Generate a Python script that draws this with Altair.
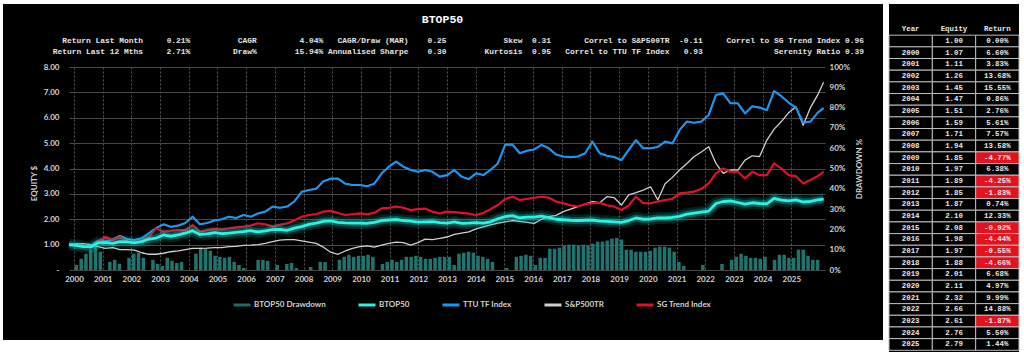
import altair as alt
import pandas as pd

# ---------------- data ----------------
series_names = ["TTU TF Index", "S&P500TR", "SG Trend Index", "BTOP50"]
legend_names = ["BTOP50 Drawdown", "BTOP50", "TTU TF Index", "S&P500TR", "SG Trend Index"]
legend_colors = ["#1f6b66", "#2af2e4", "#1a98ef", "#cfcfcf", "#e0102a"]

# quarterly sampling times (decimal years)
q_times = [round(2000 + i / 4, 2) for i in range(104)] + [2025.95]

btop50 = [
    1.00, 0.97, 0.92, 0.91,
    1.07, 1.08, 1.05, 1.12,
    1.11, 1.07, 1.12, 1.22,
    1.26, 1.38, 1.33, 1.38,
    1.45, 1.55, 1.40, 1.42,
    1.47, 1.43, 1.45, 1.48,
    1.51, 1.55, 1.50, 1.54,
    1.59, 1.60, 1.56, 1.65,
    1.71, 1.80, 1.85, 1.92,
    1.94, 1.88, 1.86, 1.85,
    1.85, 1.84, 1.88, 1.95,
    1.97, 1.99, 1.95, 1.93,
    1.89, 1.90, 1.91, 1.87,
    1.85, 1.90, 1.84, 1.85,
    1.87, 1.85, 1.90, 2.02,
    2.10, 2.14, 2.05, 2.08,
    2.08, 2.12, 2.06, 2.00,
    1.98, 1.96, 1.95, 1.96,
    1.97, 1.93, 1.92, 1.90,
    1.88, 1.95, 2.05, 2.00,
    2.01, 2.05, 2.05, 2.07,
    2.11, 2.20, 2.24, 2.28,
    2.32, 2.62, 2.70, 2.72,
    2.66, 2.60, 2.65, 2.62,
    2.61, 2.82, 2.75, 2.72,
    2.76, 2.68, 2.70, 2.76,
    2.79,
]

ttu_tf = [
    1.00, 0.97, 0.93, 0.95,
    1.15, 1.12, 1.20, 1.35,
    1.22, 1.18, 1.25, 1.45,
    1.65, 1.80, 1.70, 1.75,
    1.85, 2.10, 1.80, 1.85,
    1.95, 2.00, 2.10, 2.05,
    2.17, 2.10, 2.23, 2.30,
    2.50, 2.45, 2.50, 2.70,
    3.08, 3.15, 3.20, 3.50,
    3.60, 3.60, 3.40, 3.35,
    3.35, 3.30, 3.40, 3.80,
    4.07, 4.27, 4.07, 3.94,
    3.87, 3.94, 3.87, 3.68,
    3.74, 3.94, 3.68, 3.58,
    3.81, 3.74, 3.95, 4.20,
    4.93, 4.95, 4.60, 4.70,
    4.75, 4.93, 4.80, 4.55,
    4.47, 4.45, 4.47, 4.60,
    5.06, 4.60, 4.50, 4.45,
    4.33, 4.73, 5.12, 4.80,
    4.80, 4.85, 5.06, 4.99,
    5.52, 5.85, 5.80, 5.85,
    6.11, 6.90, 6.96, 6.57,
    6.57, 6.17, 6.45, 6.40,
    6.30, 7.05, 6.85, 6.60,
    6.40, 5.80, 5.85, 6.20,
    6.38,
]

sp500tr = [
    1.00, 1.03, 1.04, 1.00,
    0.92, 0.85, 0.88, 0.80,
    0.80, 0.78, 0.68, 0.62,
    0.62, 0.66, 0.72, 0.75,
    0.80, 0.85, 0.85, 0.86,
    0.88, 0.88, 0.92, 0.93,
    0.97, 0.98, 1.00, 1.05,
    1.12, 1.18, 1.20, 1.20,
    1.15, 1.10, 1.05, 0.90,
    0.70, 0.62, 0.75, 0.85,
    0.92, 0.95, 0.90, 0.98,
    1.05, 1.10, 1.08, 0.98,
    1.08, 1.22, 1.20, 1.25,
    1.30, 1.40, 1.45, 1.50,
    1.62, 1.70, 1.78, 1.85,
    1.90, 1.95, 1.92, 1.88,
    1.84, 2.00, 2.10, 2.15,
    2.30, 2.40, 2.50, 2.60,
    2.69, 2.65, 2.89, 2.85,
    2.56, 2.96, 3.05, 3.15,
    3.28, 2.76, 3.40, 3.65,
    3.94, 4.20, 4.47, 4.65,
    4.86, 4.20, 3.81, 3.94,
    3.94, 4.33, 4.50, 4.47,
    5.12, 5.55, 5.85, 6.20,
    6.43, 5.70, 6.40, 6.90,
    7.40,
]

sg_trend = [
    1.00, 0.97, 0.92, 0.90,
    1.12, 1.31, 1.18, 1.31,
    1.12, 1.10, 1.15, 1.31,
    1.64, 1.51, 1.55, 1.57,
    1.57, 1.77, 1.51, 1.58,
    1.62, 1.60, 1.64, 1.68,
    1.71, 1.75, 1.84, 1.80,
    1.71, 1.78, 1.84, 1.95,
    2.10, 2.17, 2.20, 2.30,
    2.33, 2.25, 2.17, 2.20,
    2.23, 2.20, 2.25, 2.43,
    2.45, 2.50, 2.45, 2.36,
    2.40, 2.42, 2.30, 2.23,
    2.30, 2.28, 2.25, 2.22,
    2.17, 2.25, 2.40, 2.56,
    2.80, 2.89, 2.76, 2.80,
    2.85, 2.89, 2.85, 2.70,
    2.63, 2.55, 2.50, 2.60,
    2.63, 2.65, 2.55, 2.50,
    2.36, 2.55, 2.89, 2.63,
    2.63, 2.70, 2.76, 2.80,
    3.02, 3.05, 3.09, 3.20,
    3.41, 3.81, 4.00, 3.87,
    3.87, 3.61, 3.87, 3.74,
    3.74, 4.20, 4.00, 3.74,
    3.70, 3.41, 3.55, 3.70,
    3.87,
]

# bi-monthly drawdown of BTOP50 (%)
dd_times = [round(2000 + (2 * i + 1) / 12, 3) for i in range(156)]
drawdown = [
    2.5, 5.5, 8, 10, 11.5, 9,
    0, 4, 5, 3, 0, 6,
    8, 8.5, 6, 0, 5, 3,
    2, 6, 4.5, 3.5, 4, 0,
    0, 8, 11, 10.5, 9.5, 7,
    6.5, 6, 6.5, 4, 2.5, 1,
    0, 0, 5, 5, 4.5, 0,
    2.5, 0, 3, 3.5, 1, 0,
    0, 1.5, 0, 4, 4, 0,
    0, 5, 6.5, 7.5, 6.5, 7,
    7, 7.5, 6.5, 0, 3, 4,
    5, 4, 5, 6.5, 6.5, 7,
    6.5, 5.5, 5.5, 6, 6.5, 6.5,
    6.5, 2.5, 8, 8.5, 9, 8.5,
    7, 6.5, 5.5, 4, 0, 0,
    1, 0, 6.5, 7, 7.5, 7,
    2.5, 6, 6, 10.5, 10.5, 11,
    12, 12.5, 12.5, 12, 12.5, 12,
    13, 14, 14, 14.5, 15.5, 15.8,
    15, 10, 10, 9, 9, 9,
    9.5, 11, 11.5, 11.5, 11, 9,
    4, 2, 0, 0, 0, 2.5,
    0, 0, 0, 3, 0, 5,
    6.5, 8, 7, 6, 6, 5.5,
    6.5, 0, 5, 7.5, 7.5, 6,
    6, 10, 10, 7, 5, 5,
]

# statistics header
stat_labels_1 = ["Return Last Month", "CAGR", "CAGR/Draw (MAR)", "Skew",
                 "Correl to S&P500TR", "Correl to SG Trend Index"]
stat_values_1 = ["0.21%", "4.04%", "0.25", "0.31", "-0.11", "0.96"]
stat_labels_2 = ["Return Last 12 Mths", "Draw%", "Annualised Sharpe", "Kurtosis",
                 "Correl to TTU TF Index", "Serenity Ratio"]
stat_values_2 = ["2.71%", "15.94%", "0.30", "0.95", "0.93", "0.39"]

# yearly table
table_header = ["Year", "Equity", "Return"]
table_years = [""] + [str(y) for y in range(2000, 2026)]
table_equity = [1.00, 1.07, 1.11, 1.26, 1.45, 1.47, 1.51, 1.59, 1.71, 1.94, 1.85,
                1.97, 1.89, 1.85, 1.87, 2.10, 2.08, 1.98, 1.97, 1.88, 2.01, 2.11,
                2.32, 2.66, 2.61, 2.76, 2.79]
table_return = [0.00, 6.60, 3.83, 13.68, 15.55, 0.86, 2.76, 5.61, 7.57, 13.58, -4.77,
                6.38, -4.25, -1.83, 0.74, 12.33, -0.92, -4.44, -0.55, -4.66, 6.68,
                4.97, 9.99, 14.88, -1.87, 5.50, 1.44]

# ---------------- layout helpers ----------------
PAD = {"left": 69, "top": 67, "right": 199, "bottom": 84}
W, H = 756, 203
LABEL_FONT = "Lato"
LABEL_COLOR = "#d2d2d2"
MONO = "Liberation Mono"
NBSP = "\u00a0"
CHAR_W = 4.75          # advance of the monospace font at 7.92px
STATS_X0 = -21         # x of character column 0 (view coordinates)


def build_row(labels, values):
    """Lay the fields of a stats row out on a fixed character grid."""
    label_end = [20, 44, 76, 100, 131, 167]
    value_pos = [(25, "l"), (58, "r"), (80, "l"), (102, "l"), (138, "r"), (168, "l")]
    buf = [" "] * 190
    for lab, end in zip(labels, label_end):
        for i, ch in enumerate(lab):
            buf[end - len(lab) + i] = ch
    for val, (col, al) in zip(values, value_pos):
        start = col if al == "l" else col - len(val)
        for i, ch in enumerate(val):
            buf[start + i] = ch
    s = "".join(buf).rstrip()
    lead = len(s) - len(s.lstrip())
    return s.strip().replace(" ", NBSP), lead


one = pd.DataFrame({"k": [0]})


def strip(x1, x2, y1, y2):
    return alt.Chart(one).mark_rect(color="white").encode(
        x=alt.value(x1), x2=alt.value(x2), y=alt.value(y1), y2=alt.value(y2))


# ---------------- frames ----------------
series_map = {"TTU TF Index": ttu_tf, "S&P500TR": sp500tr,
              "SG Trend Index": sg_trend, "BTOP50": btop50}
lines_rows = []
for name in series_names:
    for t, v in zip(q_times, series_map[name]):
        lines_rows.append({"t": t, "v": v, "series": name})
lines_df = pd.DataFrame(lines_rows)
dd_df = pd.DataFrame({"t": dd_times, "dd": drawdown})

tab_rows = []
for c in table_header:
    tab_rows.append({"row": 0, "col": c, "txt": c, "bg": "n"})
for i, (y, e, r) in enumerate(zip(table_years, table_equity, table_return)):
    tab_rows.append({"row": i + 1, "col": "Year", "txt": y, "bg": "n"})
    tab_rows.append({"row": i + 1, "col": "Equity", "txt": f"{e:.2f}", "bg": "n"})
    tab_rows.append({"row": i + 1, "col": "Return", "txt": f"{r:.2f}%",
                     "bg": "neg" if r < 0 else "n"})
tab_df = pd.DataFrame(tab_rows)

# ---------------- scales & axes ----------------
xs = alt.Scale(domain=[2000, 2026], nice=False, zero=False)
ys = alt.Scale(domain=[0, 8], nice=False)

x_axis = alt.Axis(values=list(range(2000, 2026)), format="d", labelColor=LABEL_COLOR,
                  labelFont=LABEL_FONT, labelFontSize=8, labelFontWeight="bold",
                  labelPadding=5, ticks=False, domain=False, grid=True,
                  gridColor="#6c6c6c", gridDash=[2, 2], gridWidth=0.8, title=None,
                  labelOverlap=False, labelFlush=False)

left_axis = alt.Axis(values=list(range(0, 9)),
                     labelExpr="datum.value == 0 ? '-' : format(datum.value, '.2f')",
                     labelColor=LABEL_COLOR, labelFont=LABEL_FONT, labelFontSize=8,
                     labelFontWeight="bold", labelPadding=10, ticks=False, domain=False,
                     grid=True, gridColor="#474747", gridWidth=1,
                     title="EQUITY $", titleColor=LABEL_COLOR, titleFont=LABEL_FONT,
                     titleFontSize=8, titleFontWeight="bold", titleX=-31, titleY=116)

right_axis = alt.Axis(orient="right", values=list(range(0, 101, 10)),
                      labelExpr="datum.value + '%'", labelColor=LABEL_COLOR,
                      labelFont=LABEL_FONT, labelFontSize=8, labelFontWeight="bold",
                      labelPadding=4, ticks=False, domain=False, grid=False,
                      title="DRAWDOWN %", titleColor=LABEL_COLOR, titleFont=LABEL_FONT,
                      titleFontSize=8, titleFontWeight="bold", titleAngle=270, titleX=38)

legend = alt.Legend(orient="none", legendX=163, legendY=228, direction="horizontal",
                    title=None, symbolType="stroke", symbolSize=289, symbolStrokeWidth=3,
                    labelColor=LABEL_COLOR, labelFont=LABEL_FONT, labelFontSize=8,
                    labelFontWeight="bold", columnPadding=26, labelOffset=2)

# ---------------- layers ----------------
strips = [
    strip(-69, 955, -67, -63),
    strip(-69, -66, -67, 287),
    strip(814, 820, -67, 287),
    strip(-69, 820, 273, 287),
    strip(820, 955, 285, 287),
    strip(950, 955, -67, 287),
]

title = alt.Chart(one).mark_text(text="BTOP50", font=MONO, fontSize=11.5,
                                 fontWeight="bold", color="white").encode(
    x=alt.value(373.5), y=alt.value(-47))

stats_layers = []
for (labels, values), ypos in zip([(stat_labels_1, stat_values_1),
                                   (stat_labels_2, stat_values_2)], [-26, -15]):
    txt, lead = build_row(labels, values)
    stats_layers.append(
        alt.Chart(pd.DataFrame({"txt": [txt]})).mark_text(
            font=MONO, fontSize=7.92, fontWeight="bold", color="#e4e4e4",
            align="left", baseline="middle").encode(
            x=alt.value(STATS_X0 + lead * CHAR_W), y=alt.value(ypos), text="txt:N"))

tx = alt.Scale(domain=table_header, range=[820, 950], paddingInner=0, paddingOuter=0)
ty = alt.Scale(domain=list(range(28)), range=[-43.5, 283.3], paddingInner=0, paddingOuter=0)

table_cells = alt.Chart(tab_df).mark_rect(stroke="#bdbdbd", strokeWidth=1).encode(
    x=alt.X("col:N", scale=tx, axis=None),
    y=alt.Y("row:O", scale=ty, axis=None),
    fill=alt.Fill("bg:N", scale=alt.Scale(domain=["n", "neg"], range=["#000000", "#e3121f"]),
                  legend=None),
    strokeOpacity=alt.condition("datum.row == 0", alt.value(0), alt.value(1)))

table_text = alt.Chart(tab_df).mark_text(font=MONO, fontSize=7.4, fontWeight="bold",
                                         color="#e8e8e8", baseline="middle").encode(
    x=alt.X("col:N", scale=tx, axis=None),
    y=alt.Y("row:O", scale=ty, axis=None),
    text="txt:N")

bars = alt.Chart(dd_df).mark_bar(width=3.5, color="#237a73", opacity=0.95).encode(
    x=alt.X("t:Q", scale=xs, axis=x_axis),
    y=alt.Y("dd:Q", scale=alt.Scale(domain=[0, 100], nice=False), axis=right_axis))

# all four curves, thin, carrying the legend
lines = alt.Chart(lines_df).mark_line(strokeWidth=1.3, strokeJoin="round").encode(
    x=alt.X("t:Q", scale=xs, axis=None),
    y=alt.Y("v:Q", scale=ys, axis=left_axis),
    color=alt.Color("series:N", scale=alt.Scale(domain=legend_names, range=legend_colors),
                    legend=legend))


def single(name, color, width, opacity=1.0):
    return alt.Chart(lines_df).transform_filter(
        alt.datum.series == name
    ).mark_line(color=color, strokeWidth=width, opacity=opacity, strokeJoin="round").encode(
        x=alt.X("t:Q", scale=xs, axis=None), y=alt.Y("v:Q", scale=ys, axis=None))


ttu_line = single("TTU TF Index", "#1a98ef", 2.1)
sg_line = single("SG Trend Index", "#e0102a", 2.1)
glow1 = single("BTOP50", "#00b8a8", 12, 0.18)
glow2 = single("BTOP50", "#14dccc", 7, 0.3)
btop_line = single("BTOP50", "#2af2e4", 2.8)

chart = alt.layer(
    *strips, title, *stats_layers, table_cells, table_text, bars, lines,
    ttu_line, sg_line, glow1, glow2, btop_line
).resolve_scale(
    x="independent", y="independent"
).properties(
    width=W, height=H, padding=PAD, background="black",
    autosize=alt.AutoSizeParams(type="none")
).configure_view(strokeWidth=0)

chart.save("out.html", embed_options={"renderer": "svg", "actions": False})
